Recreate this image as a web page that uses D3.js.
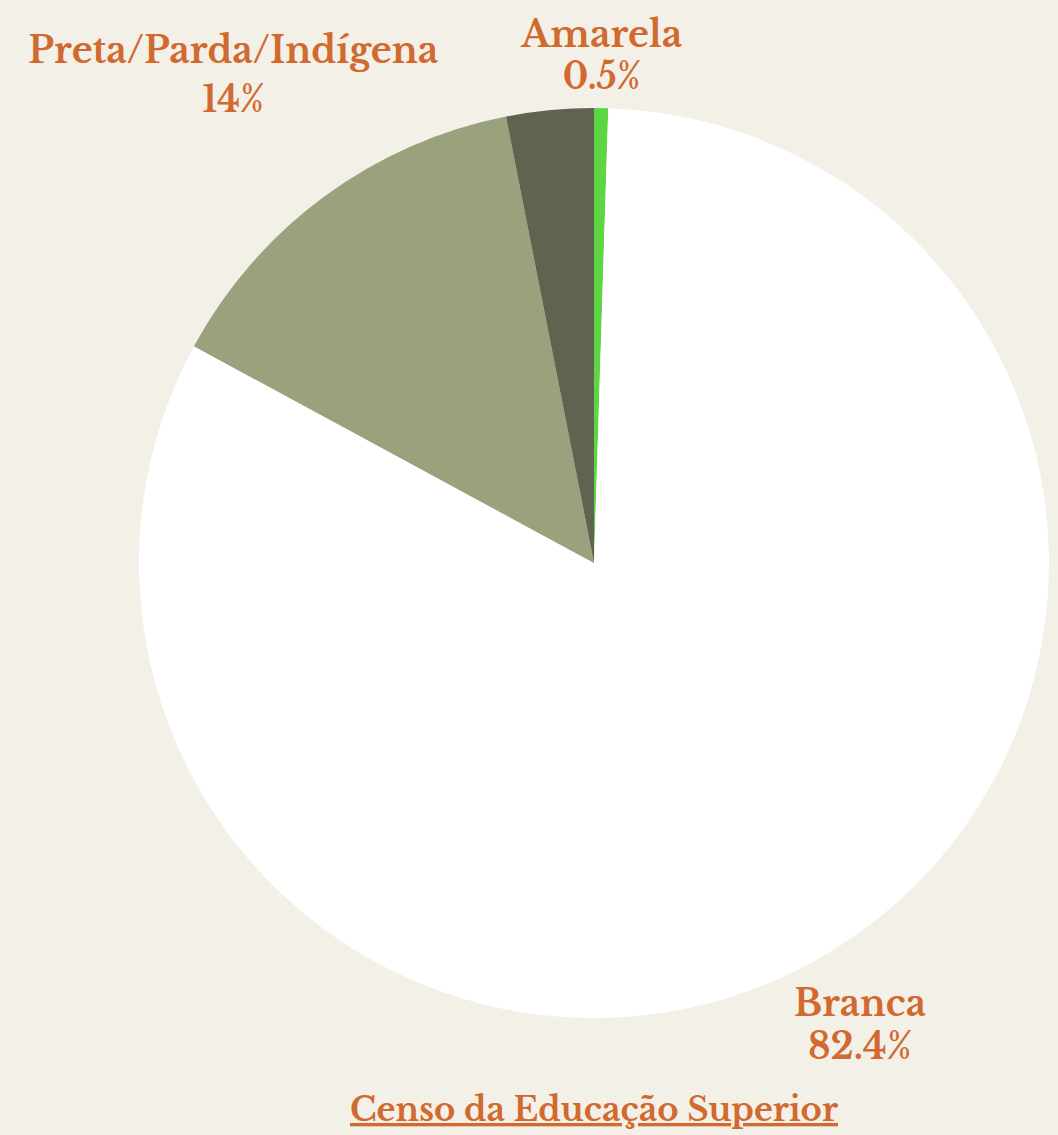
<!DOCTYPE html>
<html>
<head>
<meta charset="utf-8">
<script src="https://cdn.jsdelivr.net/npm/d3@7"></script>
<style>
  html, body { margin: 0; padding: 0; background: #f3f0e8; }
  svg { display: block; }
</style>
</head>
<body>
<div id="chart"></div>
<script>
// data
var categories = ['Amarela', 'Branca', 'Preta/Parda/Indígena', 'Não declarada'];
var values = [0.5, 82.4, 14, 3.1];
var valueLabels = ['0.5%', '82.4%', '14%', ''];
var colors = ['#5ed644', '#ffffff', '#9aa17d', '#5f6450'];

var width = 1058, height = 1135;
var cx = 594, cy = 563, radius = 455;
var textColor = '#d2692f';
var font = '"Libre Baskerville", "Liberation Serif", "DejaVu Serif", serif';

// label distance (as factor of radius), sideways nudge, line gap and fitted text widths
var labelDist = { 'Amarela': 1.09, 'Branca': 1.2, 'Preta/Parda/Indígena': 1.3 };
var labelNudge = { 'Amarela': 0, 'Branca': -6, 'Preta/Parda/Indígena': -10 };
var lineGap = { 'Amarela': 42, 'Branca': 43, 'Preta/Parda/Indígena': 49 };
var nameWidth = { 'Amarela': 161, 'Branca': 132, 'Preta/Parda/Indígena': 410 };
var valueWidth = { 'Amarela': 78, 'Branca': 104, 'Preta/Parda/Indígena': 62 };

var data = categories.map(function(c, i) {
    return { label: c, value: values[i], text: valueLabels[i], color: colors[i] };
});

var svg = d3.select('#chart').append('svg')
    .attr('width', width)
    .attr('height', height);

svg.append('rect').attr('width', width).attr('height', height).attr('fill', '#f3f0e8');

var g = svg.append('g').attr('transform', 'translate(' + cx + ',' + cy + ')');

var pie = d3.pie().sort(null).value(d => d.value);
var arc = d3.arc().innerRadius(0).outerRadius(radius);

var arcs = pie(data);

g.selectAll('path.slice')
    .data(arcs)
    .enter()
    .append('path')
    .attr('class', 'slice')
    .attr('d', arc)
    .attr('fill', d => d.data.color);

// labels
var labelled = arcs.filter(d => d.data.text !== '');
var labels = g.selectAll('g.label')
    .data(labelled)
    .enter()
    .append('g')
    .attr('class', 'label')
    .attr('transform', function(d) {
        var r = radius * labelDist[d.data.label];
        var c = d3.arc().innerRadius(r).outerRadius(r).centroid(d);
        return 'translate(' + (c[0] + labelNudge[d.data.label]) + ',' + c[1] + ')';
    });

labels.append('text')
    .attr('text-anchor', 'middle')
    .attr('y', d => -lineGap[d.data.label] / 2 + 1)
    .attr('fill', textColor)
    .attr('font-family', font)
    .attr('font-weight', 'bold')
    .attr('font-size', '37px')
    .attr('textLength', d => nameWidth[d.data.label])
    .attr('lengthAdjust', 'spacingAndGlyphs')
    .text(d => d.data.label);

labels.append('text')
    .attr('text-anchor', 'middle')
    .attr('y', d => lineGap[d.data.label] / 2 + 1)
    .attr('fill', textColor)
    .attr('font-family', font)
    .attr('font-weight', 'bold')
    .attr('font-size', '37px')
    .attr('textLength', d => valueWidth[d.data.label])
    .attr('lengthAdjust', 'spacingAndGlyphs')
    .text(d => d.data.text);

// source link
svg.append('text')
    .attr('x', cx)
    .attr('y', 1121)
    .attr('text-anchor', 'middle')
    .attr('fill', textColor)
    .attr('font-family', font)
    .attr('font-weight', 'bold')
    .attr('font-size', '33px')
    .attr('text-decoration', 'underline')
    .attr('textLength', 488)
    .attr('lengthAdjust', 'spacingAndGlyphs')
    .text('Censo da Educação Superior');
</script>
</body>
</html>
